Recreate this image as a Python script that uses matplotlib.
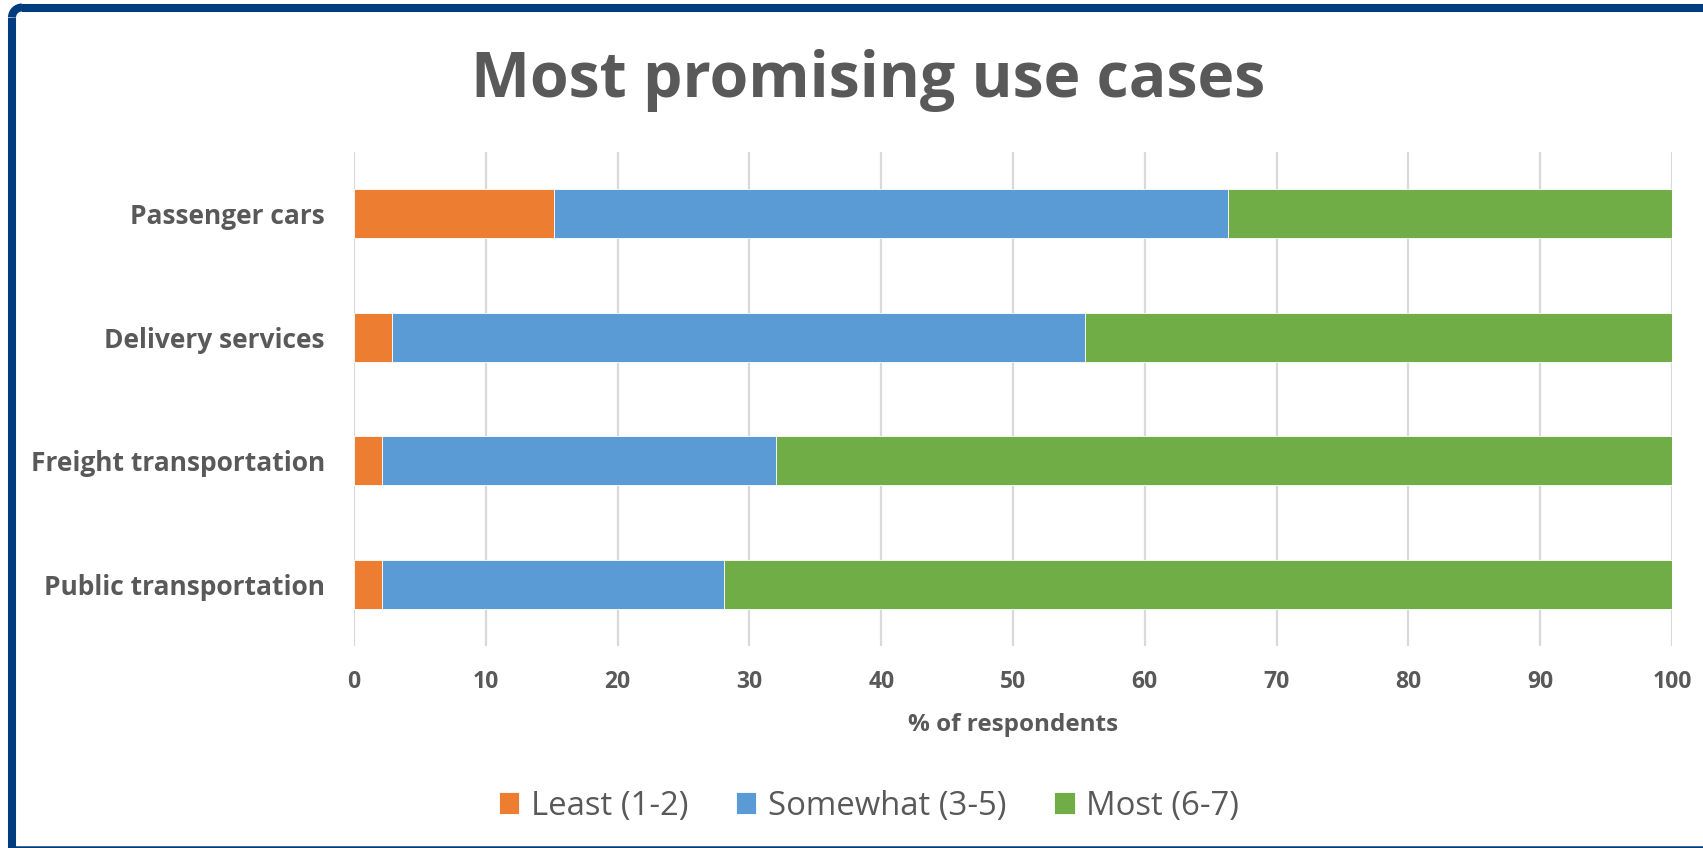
import matplotlib
matplotlib.use("Agg")
import matplotlib.pyplot as plt
from matplotlib.lines import Line2D
from matplotlib.patches import Arc
import numpy as np

categories = ["Passenger cars", "Delivery services", "Freight transportation", "Public transportation"]
least = [15.2, 2.9, 2.15, 2.15]
somewhat = [51.1, 52.6, 29.9, 25.9]
most = [33.7, 44.5, 68.0, 72.0]
series_names = ["Least (1-2)", "Somewhat (3-5)", "Most (6-7)"]
colors = ["#ED7D31", "#5B9BD5", "#70AD47"]
xticks = [0, 10, 20, 30, 40, 50, 60, 70, 80, 90, 100]

W, H = 1703, 848
fig = plt.figure(figsize=(W / 100, H / 100), dpi=100)
fig.patch.set_facecolor("white")

ax = fig.add_axes([354 / W, 1 - 646 / H, (1672 - 354) / W, (646 - 152) / H])
y = np.arange(len(categories))[::-1]
left = np.zeros(len(categories))
for vals, name, c in zip([least, somewhat, most], series_names, colors):
    ax.barh(y, vals, left=left, height=0.4, color=c, label=name,
            edgecolor="white", linewidth=0.6, zorder=3)
    left = left + np.array(vals)

ax.set_xlim(0, 100)
ax.set_ylim(-0.5, len(categories) - 0.5)
ax.set_xticks(xticks)
ax.set_yticks(y)
ax.set_yticklabels(categories)
gray = "#595959"
font = "Open Sans"
for lbl in ax.get_yticklabels():
    lbl.set_fontfamily(font); lbl.set_fontweight("bold"); lbl.set_fontsize(19); lbl.set_color(gray)
for lbl in ax.get_xticklabels():
    lbl.set_fontfamily(font); lbl.set_fontweight("bold"); lbl.set_fontsize(16.5); lbl.set_color(gray)
ax.tick_params(axis="y", length=0, pad=21)
ax.tick_params(axis="x", length=0, pad=17)
ax.grid(axis="x", color="#D9D9D9", linewidth=1.6, zorder=0)
for s in ax.spines.values():
    s.set_visible(False)
ax.set_xlabel("% of respondents", fontfamily=font, fontweight="bold", fontsize=17.5,
              color=gray, labelpad=14)

fig.text(868 / W, 1 - 81 / H, "Most promising use cases", ha="center", va="center",
         fontfamily=font, fontweight="bold", fontsize=45, color=gray)

leg = fig.legend(loc="center", bbox_to_anchor=(869 / W, 1 - 806 / H), ncol=3,
                 frameon=False, prop={"family": font, "size": 23.7},
                 handlelength=0.62, handleheight=0.62, handletextpad=0.35,
                 columnspacing=1.45)
for t in leg.get_texts():
    t.set_color(gray)

# frame: left and top thick, bottom thin, rounded top-left corner
bc = "#003C7E"
lw = 5.8
r = 10
xl, yt = 12, 7.5
tf = fig.transFigure
fig.add_artist(Line2D([xl / W, xl / W], [-5 / H, 1 - (yt + r) / H], color=bc, lw=lw, transform=tf,
                      solid_capstyle="butt"))
fig.add_artist(Line2D([(xl + r) / W, 1.02], [1 - yt / H, 1 - yt / H], color=bc, lw=lw, transform=tf,
                      solid_capstyle="butt"))
fig.add_artist(Arc(((xl + r) / W, 1 - (yt + r) / H), 2 * r / W, 2 * r / H, theta1=90, theta2=180,
                   color=bc, lw=lw, transform=tf))
fig.add_artist(Line2D([xl / W, 1.02], [1.2 / H, 1.2 / H], color=bc, lw=1.8, transform=tf,
                      solid_capstyle="butt"))

fig.savefig("out.png", dpi=100, facecolor="white")
